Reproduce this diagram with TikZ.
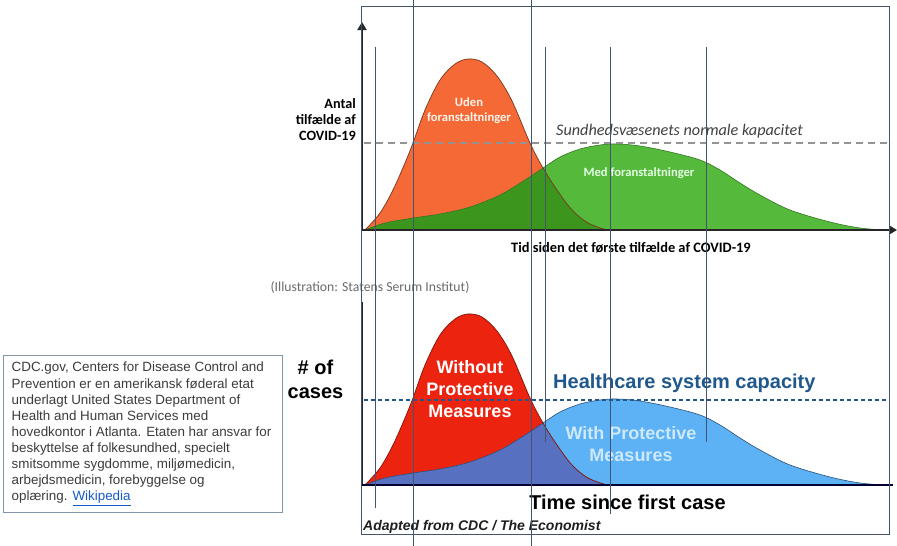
\documentclass[tikz,border=0pt]{standalone}
\usepackage{fontspec}
\setmainfont{Liberation Sans}
\newfontfamily\calfont{Carlito}
\usetikzlibrary{arrows.meta}
\definecolor{orng}{RGB}{245,105,55}
\definecolor{oline}{RGB}{120,55,30}
\definecolor{glight}{RGB}{85,185,60}
\definecolor{gdark}{RGB}{60,150,30}
\definecolor{gline}{RGB}{50,120,35}
\definecolor{rred}{RGB}{235,35,15}
\definecolor{rline}{RGB}{130,20,10}
\definecolor{blight}{RGB}{92,178,245}
\definecolor{bdark}{RGB}{88,112,192}
\definecolor{bline}{RGB}{45,80,120}
\definecolor{capblue}{RGB}{32,88,140}
\definecolor{ovl}{RGB}{68,84,112}
\definecolor{boxc}{RGB}{130,150,170}
\definecolor{boxtxt}{RGB}{60,60,60}
\definecolor{linkc}{RGB}{20,90,200}
\newcommand{\curveA}{plot[smooth,tension=0.55] coordinates {(365,230) (380,213) (393,190) (405,163) (413,143) (425,110) (440,80) (455,64) (468,59) (482,62) (497,76) (512,101) (530,143) (543,168) (557,190) (572,210) (588,223) (607,230)}}
\newcommand{\curveB}{plot[smooth,tension=0.55] coordinates {(365,230) (385,223) (413,218) (440,214) (470,207) (500,195) (525,180) (543,168) (560,157) (580,149) (600,145) (617,144) (640,146) (670,152) (700,160) (720,170) (740,183) (760,195) (790,210) (830,222) (860,228) (885,230)}}
\tikzset{
  ov/.style={draw=ovl, line width=0.8pt},
  topaxis/.style={draw=black!85, line width=1.8pt},
  wlabel/.style={text=white, font=\bfseries\fontsize{18}{22}\selectfont, align=center, inner sep=0pt},
}
\begin{document}
\begin{tikzpicture}[x=1pt,y=-1pt]
\useasboundingbox (0,0) rectangle (897,546);
\fill[white] (0,0) rectangle (897,546);

% ---------- top chart ----------
\fill[glight] \curveB -- cycle;
\fill[orng] \curveA -- cycle;
\begin{scope}
  \clip \curveB -- cycle;
  \fill[gdark] \curveA -- cycle;
\end{scope}
\draw[gline, line width=0.6pt] \curveB;
\draw[oline, line width=0.7pt] \curveA;
\draw[topaxis, -{Triangle[width=9pt,length=8pt]}] (362,231) -- (362,22);
\draw[topaxis, -{Triangle[width=9pt,length=8pt]}] (361,230) -- (897,230);
\draw[gray!85, line width=1.6pt, dash pattern=on 7pt off 5pt] (364,143) -- (892,143);

\node[anchor=east, align=right, inner sep=0pt, font=\calfont\bfseries\fontsize{14.2}{16}\selectfont] (antal) at (356,120) {Antal\\tilfælde af\\COVID-19};
\node[inner sep=0pt, align=center, text=white!92!orange, font=\calfont\bfseries\fontsize{12.6}{15}\selectfont] (uden) at (469,111) {Uden\\foranstaltninger};
\node[anchor=west, inner sep=0pt, text=black!75, font=\calfont\itshape\fontsize{16.2}{18}\selectfont] (kap) at (556,131) {Sundhedsvæsenets normale kapacitet};
\node[inner sep=0pt, text=white!90!green, font=\calfont\bfseries\fontsize{12.6}{15}\selectfont] (med) at (639,173) {Med foranstaltninger};
\node[inner sep=0pt, font=\calfont\bfseries\fontsize{14.4}{16}\selectfont] (tid) at (631,248) {Tid siden det første tilfælde af COVID-19};
\node[inner sep=0pt, text=black!58, font=\calfont\fontsize{13.7}{16}\selectfont] (illu) at (370,287) {(Illustration: Statens Serum Institut)};

% ---------- bottom chart ----------
\begin{scope}[yshift=-255pt]
  \fill[blight] \curveB -- cycle;
  \fill[rred] \curveA -- cycle;
  \begin{scope}
    \clip \curveB -- cycle;
    \fill[bdark] \curveA -- cycle;
  \end{scope}
  \draw[bline, line width=0.6pt] \curveB;
  \draw[rline, line width=0.7pt] \curveA;
\end{scope}
\draw[black!85, line width=2.4pt] (362,302) -- (362,486);
\draw[black!80!blue, line width=2pt] (361,485) -- (893,485);
\draw[capblue, line width=1.6pt, dash pattern=on 4pt off 3pt] (364,400) -- (890,400);

\node[inner sep=0pt, align=center, font=\bfseries\fontsize{20}{24}\selectfont] (cases) at (315.5,379) {\# of\\cases};
\node[wlabel] (without) at (470,389) {Without\\Protective\\Measures};
\node[anchor=west, inner sep=0pt, text=capblue, font=\bfseries\fontsize{20}{24}\selectfont] (hcap) at (553,383) {Healthcare system capacity};
\node[wlabel, text=white!70!blight] (with) at (631,444.5) {With Protective\\Measures};
\node[inner sep=0pt, font=\bfseries\fontsize{20}{24}\selectfont] (time) at (627.5,502) {Time since first case};
\node[anchor=west, inner sep=0pt, text=black!88, font=\bfseries\itshape\fontsize{14}{16}\selectfont] (adapted) at (363,527) {Adapted from CDC / The Economist};

% ---------- text box ----------
\node[draw=boxc, line width=0.8pt, anchor=north west, minimum width=279pt, minimum height=157pt, inner sep=0pt] (box) at (3,355) {};
\node[anchor=north west, inner sep=0pt, align=left, text=boxtxt, font=\fontsize{13.4}{16.1}\selectfont] (boxtext) at (11.5,362) {CDC.gov, Centers for Disease Control and\\Prevention er en amerikansk føderal etat\\underlagt United States Department of\\Health and Human Services med\\hovedkontor i Atlanta. Etaten har ansvar for\\beskyttelse af folkesundhed, specielt\\smitsomme sygdomme, miljømedicin,\\arbejdsmedicin, forebyggelse og\\oplæring. {\color{linkc}\underline{Wikipedia}}};

% ---------- overlay lines ----------
\draw[ov] (361,6) rectangle (889,534);
\draw[ov] (413,0) -- (413,546);
\draw[ov] (531,0) -- (531,546);
\draw[ov] (375,47) -- (375,508);
\draw[ov] (545,47) -- (545,442);
\draw[ov] (610,47) -- (610,514);
\draw[ov] (706,47) -- (706,442);
\end{tikzpicture}
\end{document}
